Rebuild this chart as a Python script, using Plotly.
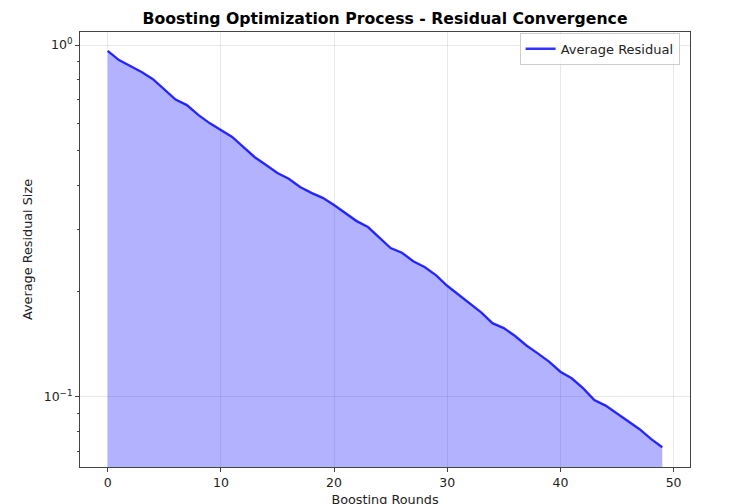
import plotly.graph_objects as go

rounds = list(range(50))
avg_residual = [0.962, 0.906, 0.872, 0.838, 0.800, 0.750, 0.700, 0.675, 0.633, 0.600,
                0.573, 0.548, 0.513, 0.480, 0.456, 0.433, 0.417, 0.395, 0.380, 0.368,
                0.351, 0.333, 0.316, 0.304, 0.283, 0.265, 0.257, 0.243, 0.234, 0.222,
                0.207, 0.195, 0.184, 0.174, 0.162, 0.157, 0.149, 0.140, 0.133, 0.126,
                0.118, 0.113, 0.106, 0.098, 0.0945, 0.0897, 0.085, 0.081, 0.076, 0.072]
major_vals = [0.1, 1.0]
major_text = ["10<sup>\u22121</sup>", "10<sup>0</sup>"]
minor_vals = [0.07, 0.08, 0.09, 0.2, 0.3, 0.4, 0.5, 0.6, 0.7, 0.8, 0.9]

font = "DejaVu Sans"
fig = go.Figure()
fig.add_trace(go.Scatter(
    x=rounds, y=avg_residual, mode="lines", fill="tozeroy",
    fillcolor="rgba(0,0,255,0.3)", line=dict(color="rgba(0,0,255,0.25)", width=1),
    showlegend=False, hoverinfo="skip"))
fig.add_trace(go.Scatter(
    x=rounds, y=avg_residual, mode="lines", name="Average Residual",
    line=dict(color="rgba(0,0,255,0.8)", width=2.4)))

fig.update_layout(
    width=734, height=504,
    margin=dict(l=72, r=52, t=24, b=45),
    paper_bgcolor="white", plot_bgcolor="white",
    font=dict(family=font, size=12.5, color="#222"),
    title=dict(text="<b>Boosting Optimization Process - Residual Convergence</b>",
               xref="paper", x=0.5, xanchor="center", y=0.98, yanchor="middle",
               font=dict(size=15.7, color="black")),
    legend=dict(x=0.983, y=0.998, xanchor="right", yanchor="top",
                bgcolor="rgba(255,255,255,0.8)", bordercolor="#ccc", borderwidth=1,
                itemwidth=30, font=dict(size=13)),
    xaxis=dict(range=[-2.45, 51.45], tickvals=[0, 10, 20, 30, 40, 50],
               automargin=False,
               showgrid=True, gridcolor="rgba(0,0,0,0.09)", gridwidth=1,
               zeroline=False, showline=True, linecolor="#444", linewidth=1, mirror=True,
               ticks="outside", ticklen=4, tickcolor="#444",
               title=dict(text="Boosting Rounds", standoff=6, font=dict(size=12.8))),
    yaxis=dict(type="log", range=[-1.199, 0.037],
               tickvals=major_vals, ticktext=major_text,
               automargin=False,
               showgrid=True, gridcolor="rgba(0,0,0,0.09)", gridwidth=1,
               zeroline=False, showline=True, linecolor="#444", linewidth=1, mirror=True,
               ticks="outside", ticklen=4, tickcolor="#444",
               minor=dict(tickvals=minor_vals, ticks="outside", ticklen=2,
                          tickcolor="#444", showgrid=False),
               title=dict(text="Average Residual Size", standoff=8, font=dict(size=12.8))),
)
fig.write_html("out.html")
